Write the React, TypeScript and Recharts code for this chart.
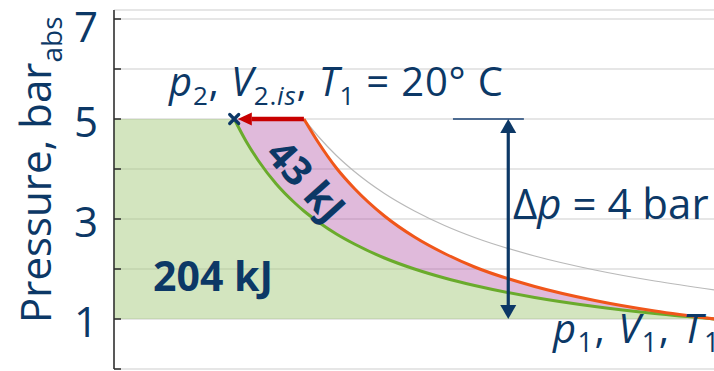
import React from 'react';
import {
  ComposedChart,
  Area,
  Line,
  XAxis,
  YAxis,
  CartesianGrid,
  ReferenceLine,
  ReferenceDot,
} from 'recharts';

const NAVY = '#0c3866';
const FONT = '"Open Sans", "Noto Sans", sans-serif';

// Relative volume (V / V2,is) and pressure in bar abs
const volume = [1, 1.1, 1.2, 1.35, 1.5, 1.58, 1.7, 1.85, 2, 2.25, 2.5, 2.75, 3, 3.5, 4, 4.5, 5];
const isothermal = [5, 4.55, 4.17, 3.7, 3.33, 3.16, 2.94, 2.7, 2.5, 2.22, 2, 1.82, 1.67, 1.43, 1.25, 1.11, 1];
const adiabatic = [null, null, null, null, null, 5, 4.53, 4.02, 3.61, 3.06, 2.64, 2.31, 2.04, 1.65, 1.37, 1.16, 1];
const isothermHot = [null, null, null, null, null, 5, 4.65, 4.27, 3.95, 3.51, 3.16, 2.87, 2.63, 2.26, 1.98, 1.76, 1.58];

const pressureTicks = [0, 1, 2, 3, 4, 5, 6, 7];
const volumeTicks = [0, 1, 2, 3, 4, 5];

const p1 = 1;
const p2 = 5;
const V1 = 5;
const V2is = 1;
const V2ad = 1.58;
const arrowTipV = 1.03;
const deltaPVolume = 3.28;
const capFromV = 2.82;
const capToV = 3.41;

const rows = volume.map((V, i) => ({
  V,
  iso: isothermal[i],
  adi: adiabatic[i],
  hot: isothermHot[i],
}));

// isothermal compression work: everything left of the isotherm between p1 and p2
const greenBand = [{ V: 0, band: [p1, p2] }, ...rows.map((r) => ({ V: r.V, band: [p1, r.iso] }))];
// extra work of the adiabatic path: between isotherm and adiabat (capped by p2)
const pinkBand = rows.map((r) => ({ V: r.V, band: [r.iso, r.adi === null ? p2 : r.adi] }));
const adiLine = rows.filter((r) => r.adi !== null).map((r) => ({ V: r.V, p: r.adi }));
const hotLine = rows.filter((r) => r.hot !== null).map((r) => ({ V: r.V, p: r.hot }));
const isoLine = rows.map((r) => ({ V: r.V, p: r.iso }));

type Pt = { x: number; y: number };

function arrowPath(tip: Pt, from: Pt, len: number, half: number) {
  const dx = tip.x - from.x;
  const dy = tip.y - from.y;
  const d = Math.hypot(dx, dy) || 1;
  const ux = dx / d;
  const uy = dy / d;
  const bx = tip.x - ux * len;
  const by = tip.y - uy * len;
  return {
    base: { x: bx, y: by },
    d: `M${tip.x},${tip.y} L${bx - uy * half},${by + ux * half} L${bx + uy * half},${by - ux * half} Z`,
  };
}

const SingleArrow = (color: string, width: number, len: number, half: number) => (props: any) => {
  const { x1, y1, x2, y2 } = props;
  const head = arrowPath({ x: x2, y: y2 }, { x: x1, y: y1 }, len, half);
  return (
    <g>
      <line x1={x1} y1={y1} x2={head.base.x} y2={head.base.y} stroke={color} strokeWidth={width} />
      <path d={head.d} fill={color} />
    </g>
  );
};

const DoubleArrow = (color: string, width: number, len: number, half: number) => (props: any) => {
  const { x1, y1, x2, y2 } = props;
  const a = arrowPath({ x: x1, y: y1 }, { x: x2, y: y2 }, len, half);
  const b = arrowPath({ x: x2, y: y2 }, { x: x1, y: y1 }, len, half);
  return (
    <g>
      <line x1={a.base.x} y1={a.base.y} x2={b.base.x} y2={b.base.y} stroke={color} strokeWidth={width} />
      <path d={a.d} fill={color} />
      <path d={b.d} fill={color} />
    </g>
  );
};

const Cross = (props: any) => {
  const { cx, cy } = props;
  const s = 4.5;
  return (
    <path
      d={`M${cx - s},${cy - s} L${cx + s},${cy + s} M${cx - s},${cy + s} L${cx + s},${cy - s}`}
      stroke={NAVY}
      strokeWidth={3.2}
      strokeLinecap="round"
    />
  );
};

const GREEN_FILL = '#a3c97a';
const PINK_FILL = '#b45aa9';
const AXIS = { stroke: '#2b2b2b', strokeWidth: 1.5 };

export default function App() {
  return (
    <div style={{ position: 'fixed', left: 0, top: 0, width: 714, height: 371, overflow: 'hidden', background: '#fff' }}>
      <ComposedChart width={721} height={371} margin={{ top: 10, right: 6, bottom: 2, left: 0 }}>
        <CartesianGrid horizontal={false} stroke="#dadada" strokeWidth={1.5} />
        <CartesianGrid vertical={false} stroke="#e6e6e6" strokeWidth={2.2} />
        <XAxis
          dataKey="V"
          type="number"
          domain={[0, V1]}
          ticks={volumeTicks}
          tick={false}
          tickSize={-7}
          height={0}
          axisLine={AXIS}
          tickLine={AXIS}
        />
        <XAxis
          xAxisId="top"
          orientation="top"
          dataKey="V"
          type="number"
          domain={[0, V1]}
          ticks={volumeTicks}
          tick={false}
          tickSize={-7}
          height={0}
          axisLine={AXIS}
          tickLine={AXIS}
        />
        <YAxis
          type="number"
          domain={[0, 7.18]}
          ticks={pressureTicks}
          width={114}
          tickSize={-7}
          tickMargin={23}
          tickFormatter={(v: number) => (v % 2 === 1 ? String(v) : '')}
          tick={{ fill: NAVY, fontSize: 42, fontFamily: FONT, dy: 3 }}
          axisLine={AXIS}
          tickLine={AXIS}
        />
        <YAxis
          yAxisId="right"
          orientation="right"
          type="number"
          domain={[0, 7.18]}
          ticks={pressureTicks}
          width={0}
          tick={false}
          tickSize={-7}
          axisLine={AXIS}
          tickLine={AXIS}
        />

        <Area data={greenBand} dataKey="band" type="linear" fill={GREEN_FILL} fillOpacity={0.48} stroke="none" isAnimationActive={false} />
        <Area data={pinkBand} dataKey="band" type="linear" fill={PINK_FILL} fillOpacity={0.42} stroke="none" isAnimationActive={false} />

        <Line data={hotLine} dataKey="p" type="monotone" stroke="#b9b9b9" strokeWidth={1.2} dot={false} isAnimationActive={false} />
        <Line data={isoLine} dataKey="p" type="monotone" stroke="#6aab2c" strokeWidth={3} dot={false} isAnimationActive={false} />
        <Line data={adiLine} dataKey="p" type="monotone" stroke="#f0561a" strokeWidth={3} dot={false} isAnimationActive={false} />

        <ReferenceLine
          segment={[{ x: V2ad, y: p2 }, { x: arrowTipV, y: p2 }]}
          shape={SingleArrow('#c80000', 4.5, 14, 6.5)}
        />
        <ReferenceDot x={V2is} y={p2} r={5} shape={Cross} />

        <ReferenceLine
          segment={[{ x: capFromV, y: p2 }, { x: capToV, y: p2 }]}
          stroke="#4d6b91"
          strokeWidth={2}
        />
        <ReferenceLine
          segment={[{ x: deltaPVolume, y: p2 }, { x: deltaPVolume, y: p1 }]}
          shape={DoubleArrow(NAVY, 3.2, 14, 8)}
        />
      </ComposedChart>

      <svg
        width={714}
        height={371}
        style={{ position: 'absolute', left: 0, top: 0, pointerEvents: 'none', overflow: 'hidden' }}
      >
        <text x={169} y={96} fill={NAVY} fontFamily={FONT} fontSize={40} letterSpacing={0.8}>
          <tspan fontStyle="italic">p</tspan>
          <tspan fontSize={26} dy={9}>2</tspan>
          <tspan dy={-9}>, </tspan>
          <tspan fontStyle="italic">V</tspan>
          <tspan fontSize={26} dy={9}>2.</tspan>
          <tspan fontSize={26} fontStyle="italic">is</tspan>
          <tspan dy={-9}>, </tspan>
          <tspan fontStyle="italic">T</tspan>
          <tspan fontSize={26} dy={9}>1</tspan>
          <tspan dy={-9}> = 20° C</tspan>
        </text>

        <text x={513} y={219} fill={NAVY} fontFamily={FONT} fontSize={42}>
          <tspan>Δ</tspan>
          <tspan fontStyle="italic">p</tspan>
          <tspan> = 4 bar</tspan>
        </text>

        <text x={553} y={343} fill={NAVY} fontFamily={FONT} fontSize={40} letterSpacing={1.5}>
          <tspan fontStyle="italic">p</tspan>
          <tspan fontSize={27} dy={9}>1</tspan>
          <tspan dy={-9}>, </tspan>
          <tspan fontStyle="italic">V</tspan>
          <tspan fontSize={27} dy={9}>1</tspan>
          <tspan dy={-9}>, </tspan>
          <tspan fontStyle="italic">T</tspan>
          <tspan fontSize={27} dy={9}>1</tspan>
        </text>

        <text x={153} y={291} fill={NAVY} fontFamily={FONT} fontSize={41} fontWeight={700}>
          204 kJ
        </text>

        <text
          x={0}
          y={0}
          transform="translate(307,180) rotate(48)"
          textAnchor="middle"
          dominantBaseline="central"
          fill={NAVY}
          fontFamily={FONT}
          fontSize={40}
          fontWeight={700}
        >
          43 kJ
        </text>

        <text transform="translate(51,323) rotate(-90)" x={0} y={0} fill={NAVY} fontFamily={FONT} fontSize={42}>
          <tspan>Pressure, bar</tspan>
          <tspan fontSize={28} dy={11}>abs</tspan>
        </text>
      </svg>
    </div>
  );
}
